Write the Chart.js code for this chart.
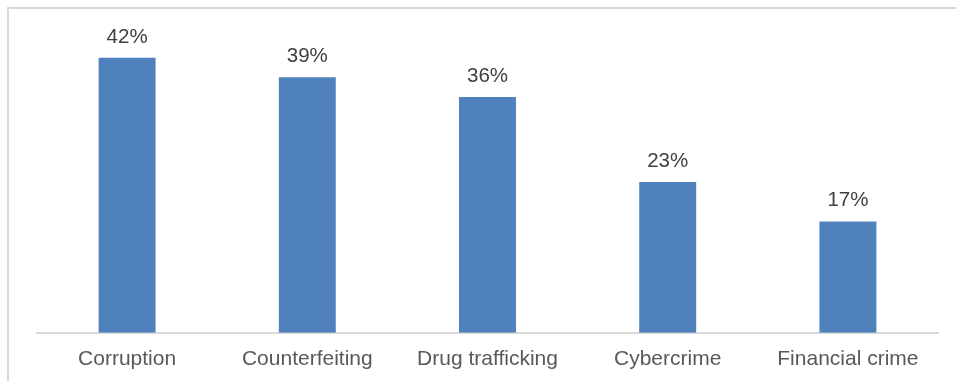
<!DOCTYPE html>
<html><head><meta charset="utf-8">
<script src="https://cdn.jsdelivr.net/npm/chart.js@4/dist/chart.umd.min.js"></script>
<style>html,body{margin:0;padding:0;background:#fff;overflow:hidden}#wrap{position:relative;width:956px;height:381px}</style>
</head><body><div id="wrap"><canvas id="c" width="956" height="381"></canvas></div>
<script>
const categories = ["Corruption", "Counterfeiting", "Drug trafficking", "Cybercrime", "Financial crime"];
const values = [42, 39, 36, 23, 17];
const valueLabels = ["42%", "39%", "36%", "23%", "17%"];

const frame = {
  id: 'frame',
  beforeDraw(chart) {
    const ctx = chart.ctx;
    ctx.save();
    ctx.fillStyle = '#fff';
    ctx.fillRect(0, 0, chart.width, chart.height);
    ctx.strokeStyle = '#d9d9d9';
    ctx.lineWidth = 2;
    ctx.beginPath();
    ctx.moveTo(8, chart.height + 5);
    ctx.lineTo(8, 8);
    ctx.lineTo(chart.width + 5, 8);
    ctx.stroke();
    ctx.restore();
  }
};
const labelsPlugin = {
  id: 'vals',
  afterDatasetsDraw(chart) {
    const ctx = chart.ctx;
    const meta = chart.getDatasetMeta(0);
    ctx.save();
    ctx.font = '20.5px "Liberation Sans", Arial, sans-serif';
    ctx.fillStyle = '#404040';
    ctx.textAlign = 'center';
    ctx.textBaseline = 'alphabetic';
    meta.data.forEach((bar, i) => {
      ctx.fillText(valueLabels[i], bar.x, bar.y - 15);
    });
    ctx.restore();
  }
};

new Chart(document.getElementById('c'), {
  type: 'bar',
  data: {
    labels: categories,
    datasets: [{
      data: values,
      backgroundColor: '#4f81bd',
      categoryPercentage: 1,
      barPercentage: 0.316
    }]
  },
  options: {
    responsive: false,
    animation: false,
    layout: { padding: { left: 37, right: 18, top: 38, bottom: -5 } },
    plugins: { legend: { display: false }, tooltip: { enabled: false } },
    scales: {
      y: { display: false, min: 0, max: 45 },
      x: {
        grid: { display: false, drawTicks: false },
        border: { display: true, color: '#d9d9d9', width: 2 },
        ticks: {
          color: '#595959',
          padding: 14,
          maxRotation: 0,
          font: { family: '"Liberation Sans", Arial, sans-serif', size: 21 }
        }
      }
    }
  },
  plugins: [frame, labelsPlugin]
});
</script></body></html>
